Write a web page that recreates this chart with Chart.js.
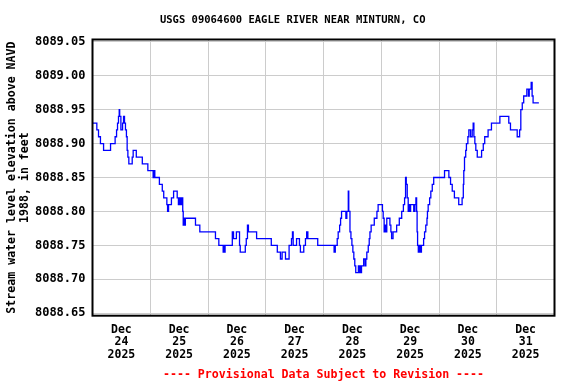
<html>

<head>
  <title>USGS 09064600 EAGLE RIVER NEAR MINTURN, CO</title>
  <script src="https://cdn.jsdelivr.net/npm/chart.js"></script>
  <style>
    body { margin: 0; background: #fff; }
  </style>
</head>

<body>
  <canvas id="stageChart" width="576" height="384"></canvas>

  <script>
    // hours after Dec 24 2025 00:00, and the level that starts at that hour (ft, NAVD 1988)
    const hours = [0, 1.8, 2.5, 3.3, 4.6, 7.5, 9.4, 10.0, 10.4, 10.8, 11.1, 11.3, 11.8, 12.5, 12.9, 13.3, 13.7, 14.1, 14.4, 14.7,
      15.1, 16.5, 16.9, 18.2, 20.7, 23.0, 25.2, 25.6, 25.9, 27.8, 29.0, 29.6, 30.9, 31.2, 31.6, 32.8, 33.7, 35.2, 35.7, 36.2,
      36.6, 37.0, 37.5, 37.7, 37.9, 38.2, 38.6, 42.8, 44.6, 51.1, 52.5, 54.3, 54.6, 54.9, 55.1, 58.1, 58.6, 59.8, 61.1, 61.4,
      63.5, 63.9, 64.4, 64.8, 68.2, 74.3, 76.8, 78.1, 78.8, 80.2, 81.7, 82.7, 83.1, 83.4, 84.8, 86.0, 86.4, 87.8, 88.5, 89.0,
      89.5, 93.6, 100.4, 100.9, 101.7, 102.1, 102.7, 103.1, 103.5, 105.3, 105.7, 106.3, 106.5, 107.0, 107.4, 107.8, 108.2, 108.6, 109.0, 109.4,
      110.5, 110.8, 111.1, 111.4, 111.8, 112.7, 113.3, 113.6, 114.0, 114.6, 115.0, 115.3, 115.8, 117.1, 118.2, 118.7, 120.5, 120.8, 121.2, 121.6,
      121.9, 122.3, 123.6, 124.0, 124.3, 124.9, 126.4, 127.5, 128.5, 129.2, 129.7, 130.1, 130.4, 130.8, 131.2, 131.5, 131.8, 132.2, 133.5, 134.0,
      134.4, 134.7, 134.9, 135.1, 135.4, 135.9, 136.3, 136.7, 137.6, 138.0, 138.5, 139.0, 139.2, 139.5, 140.1, 140.6, 141.2, 141.8, 146.3, 148.1,
      148.8, 149.5, 150.4, 152.2, 153.6, 154.1, 154.3, 154.6, 155.1, 155.4, 156.0, 156.4, 157.1, 157.8, 158.2, 158.5, 158.9, 159.3, 159.9, 161.7,
      162.4, 163.0, 164.4, 165.8, 169.3, 173.0, 173.7, 176.5, 177.5, 178.0, 178.6, 179.2, 180.5, 181.2, 181.5, 182.3, 182.7, 183.1, 185.5];
    const stage = [8088.93, 8088.92, 8088.91, 8088.90, 8088.89, 8088.90, 8088.91, 8088.92, 8088.93, 8088.94, 8088.95, 8088.94, 8088.92, 8088.93, 8088.94, 8088.93, 8088.92, 8088.91, 8088.89, 8088.88,
      8088.87, 8088.88, 8088.89, 8088.88, 8088.87, 8088.86, 8088.85, 8088.86, 8088.85, 8088.84, 8088.83, 8088.82, 8088.81, 8088.80, 8088.81, 8088.82, 8088.83, 8088.82, 8088.81, 8088.82,
      8088.81, 8088.82, 8088.80, 8088.78, 8088.79, 8088.78, 8088.79, 8088.78, 8088.77, 8088.76, 8088.75, 8088.74, 8088.75, 8088.74, 8088.75, 8088.77, 8088.76, 8088.77, 8088.75, 8088.74,
      8088.75, 8088.76, 8088.78, 8088.77, 8088.76, 8088.75, 8088.74, 8088.73, 8088.74, 8088.73, 8088.75, 8088.76, 8088.77, 8088.75, 8088.76, 8088.75, 8088.74, 8088.75, 8088.76, 8088.77,
      8088.76, 8088.75, 8088.74, 8088.75, 8088.76, 8088.77, 8088.78, 8088.79, 8088.80, 8088.79, 8088.80, 8088.83, 8088.80, 8088.77, 8088.76, 8088.75, 8088.74, 8088.73, 8088.72, 8088.71,
      8088.72, 8088.71, 8088.72, 8088.71, 8088.72, 8088.73, 8088.72, 8088.73, 8088.74, 8088.75, 8088.76, 8088.77, 8088.78, 8088.79, 8088.80, 8088.81, 8088.80, 8088.79, 8088.77, 8088.78,
      8088.77, 8088.79, 8088.78, 8088.77, 8088.76, 8088.77, 8088.78, 8088.79, 8088.80, 8088.81, 8088.82, 8088.85, 8088.84, 8088.82, 8088.80, 8088.81, 8088.80, 8088.81, 8088.80, 8088.81,
      8088.82, 8088.80, 8088.77, 8088.75, 8088.74, 8088.75, 8088.74, 8088.75, 8088.76, 8088.77, 8088.78, 8088.79, 8088.80, 8088.81, 8088.82, 8088.83, 8088.84, 8088.85, 8088.86, 8088.85,
      8088.84, 8088.83, 8088.82, 8088.81, 8088.82, 8088.84, 8088.86, 8088.88, 8088.89, 8088.90, 8088.91, 8088.92, 8088.91, 8088.92, 8088.93, 8088.91, 8088.90, 8088.89, 8088.88, 8088.89,
      8088.90, 8088.91, 8088.92, 8088.93, 8088.94, 8088.93, 8088.92, 8088.91, 8088.92, 8088.95, 8088.96, 8088.97, 8088.98, 8088.97, 8088.98, 8088.99, 8088.97, 8088.96, 8088.96];

    const dayTicks = [0, 24, 48, 72, 96, 120, 144, 168, 192];
    const dayLabels = [['Dec', '24', '2025'], ['Dec', '25', '2025'], ['Dec', '26', '2025'], ['Dec', '27', '2025'],
      ['Dec', '28', '2025'], ['Dec', '29', '2025'], ['Dec', '30', '2025'], ['Dec', '31', '2025']];
    const levelTicks = [8088.65, 8088.70, 8088.75, 8088.80, 8088.85, 8088.90, 8088.95, 8089.00, 8089.05];

    const titleText = 'USGS 09064600 EAGLE RIVER NEAR MINTURN, CO';
    const footerText = '---- Provisional Data Subject to Revision ----';

    const points = hours.map((h, i) => ({ x: h, y: stage[i] }));
    const mono = 'DejaVu Sans Mono';

    // black box round the plot
    const frame = {
      id: 'frame',
      afterDatasetsDraw(chart) {
        const { ctx, chartArea: a } = chart;
        ctx.save();
        ctx.strokeStyle = '#000';
        ctx.lineWidth = 2;
        ctx.strokeRect(a.left, a.top, a.right - a.left, a.bottom - a.top);
        ctx.restore();
      }
    };

    // title on top, provisional note under the plot
    const captions = {
      id: 'captions',
      afterDraw(chart) {
        const { ctx, chartArea: a } = chart;
        ctx.save();
        ctx.textAlign = 'center';
        ctx.textBaseline = 'middle';
        ctx.fillStyle = '#000';
        ctx.font = 'bold 10.5px "' + mono + '"';
        ctx.fillText(titleText, 292.7, 20);
        ctx.fillStyle = '#ff0000';
        ctx.font = 'bold 11.6px "' + mono + '"';
        ctx.fillText(footerText, (a.left + a.right) / 2, 375);
        ctx.restore();
      }
    };

    new Chart(document.getElementById('stageChart'), {
      type: 'line',
      data: {
        datasets: [{
          data: points,
          borderColor: '#0000ff',
          borderWidth: 1.3,
          pointRadius: 0,
          stepped: true,
          fill: false
        }]
      },
      options: {
        responsive: false,
        animation: false,
        layout: { padding: { left: 0, right: 21.5, top: 39.5, bottom: 15.9 } },
        plugins: {
          legend: { display: false },
          tooltip: { enabled: false }
        },
        scales: {
          x: {
            type: 'linear',
            min: 0,
            max: 192,
            afterBuildTicks: s => { s.ticks = dayTicks.map(v => ({ value: v })); },
            afterFit: s => { s.height = 52.4; s.paddingLeft = 0; s.paddingRight = 0; },
            grid: { color: '#cccccc', lineWidth: 1, drawTicks: false },
            border: { display: false },
            ticks: {
              labelOffset: 28.875,
              maxRotation: 0,
              autoSkip: false,
              padding: 7.6,
              color: '#000',
              font: { family: mono, size: 11.5, weight: 'bold', lineHeight: 1.11 },
              callback: (v, i) => dayLabels[i] || ''
            }
          },
          y: {
            min: 8088.6465,
            max: 8089.0532,
            afterBuildTicks: s => { s.ticks = levelTicks.map(v => ({ value: v })); },
            afterFit: s => { s.width = 92.5; s.paddingTop = 0; s.paddingBottom = 0; },
            grid: { color: '#cccccc', lineWidth: 1, drawTicks: false },
            border: { display: false },
            ticks: {
              padding: 7,
              color: '#000',
              font: { family: mono, size: 12, weight: 'bold' },
              callback: v => v.toFixed(2)
            },
            title: {
              display: true,
              text: ['Stream water level elevation above NAVD', '1988, in feet'],
              color: '#000',
              font: { family: mono, size: 11.6, weight: 'bold', lineHeight: 1.12 },
              padding: { top: 5.5, bottom: 0 }
            }
          }
        }
      },
      plugins: [frame, captions]
    });
  </script>
</body>

</html>
